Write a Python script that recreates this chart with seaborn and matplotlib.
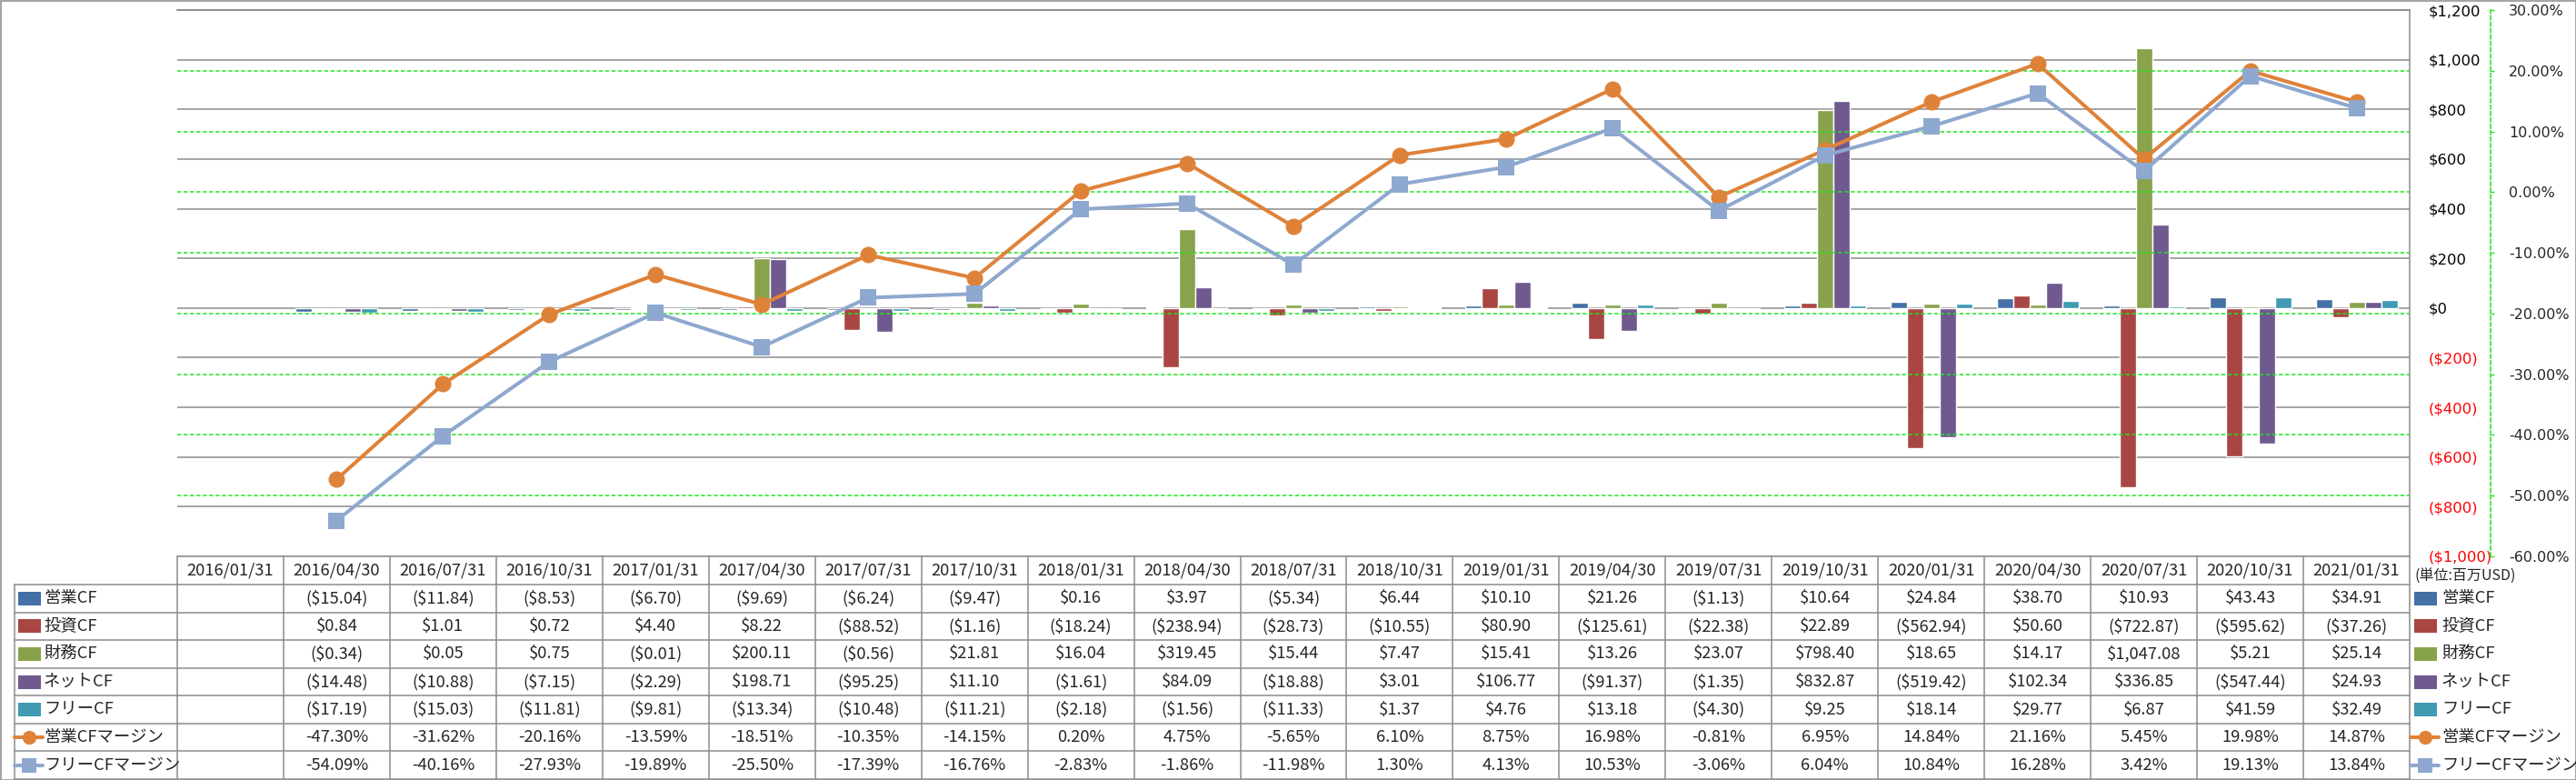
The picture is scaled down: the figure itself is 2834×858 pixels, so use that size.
import numpy as np
import pandas as pd
import matplotlib
matplotlib.use('Agg')
import matplotlib.pyplot as plt
import seaborn as sns
from matplotlib.patches import Rectangle
from matplotlib.lines import Line2D

# ---------------- data ----------------
dates = ['2016/01/31', '2016/04/30', '2016/07/31', '2016/10/31', '2017/01/31', '2017/04/30',
         '2017/07/31', '2017/10/31', '2018/01/31', '2018/04/30', '2018/07/31', '2018/10/31',
         '2019/01/31', '2019/04/30', '2019/07/31', '2019/10/31', '2020/01/31', '2020/04/30',
         '2020/07/31', '2020/10/31', '2021/01/31']
op_cf = [np.nan, -15.04, -11.84, -8.53, -6.70, -9.69, -6.24, -9.47, 0.16, 3.97, -5.34, 6.44,
         10.10, 21.26, -1.13, 10.64, 24.84, 38.70, 10.93, 43.43, 34.91]
inv_cf = [np.nan, 0.84, 1.01, 0.72, 4.40, 8.22, -88.52, -1.16, -18.24, -238.94, -28.73, -10.55,
          80.90, -125.61, -22.38, 22.89, -562.94, 50.60, -722.87, -595.62, -37.26]
fin_cf = [np.nan, -0.34, 0.05, 0.75, -0.01, 200.11, -0.56, 21.81, 16.04, 319.45, 15.44, 7.47,
          15.41, 13.26, 23.07, 798.40, 18.65, 14.17, 1047.08, 5.21, 25.14]
net_cf = [np.nan, -14.48, -10.88, -7.15, -2.29, 198.71, -95.25, 11.10, -1.61, 84.09, -18.88, 3.01,
          106.77, -91.37, -1.35, 832.87, -519.42, 102.34, 336.85, -547.44, 24.93]
free_cf = [np.nan, -17.19, -15.03, -11.81, -9.81, -13.34, -10.48, -11.21, -2.18, -1.56, -11.33, 1.37,
           4.76, 13.18, -4.30, 9.25, 18.14, 29.77, 6.87, 41.59, 32.49]
op_margin = [np.nan, -47.30, -31.62, -20.16, -13.59, -18.51, -10.35, -14.15, 0.20, 4.75, -5.65, 6.10,
             8.75, 16.98, -0.81, 6.95, 14.84, 21.16, 5.45, 19.98, 14.87]
free_margin = [np.nan, -54.09, -40.16, -27.93, -19.89, -25.50, -17.39, -16.76, -2.83, -1.86, -11.98, 1.30,
               4.13, 10.53, -3.06, 6.04, 10.84, 16.28, 3.42, 19.13, 13.84]
bar_names = ['営業CF', '投資CF', '財務CF', 'ネットCF', 'フリーCF']
line_names = ['営業CFマージン', 'フリーCFマージン']
usd_ticks = [-1000, -800, -600, -400, -200, 0, 200, 400, 600, 800, 1000, 1200]
pct_ticks = [-60, -50, -40, -30, -20, -10, 0, 10, 20, 30]
unit_label = '(単位:百万USD)'

# ---------------- style ----------------
bar_colors = ['#4470A6', '#A94643', '#88A34B', '#70598F', '#3F9AB2']
line_colors = ['#DF8239', '#8EA8CF']
line_markers = ['o', 's']
grid_gray = '#8C8C8C'
green = '#1EE61E'
red = '#FF0000'
dash = (0, (2.8, 1.8))

sns.set_style('white')
plt.rcParams['font.family'] = ['DejaVu Sans', 'Noto Sans CJK JP']
TF = ['Noto Sans CJK JP', 'DejaVu Sans']

W, H = 2834, 858
fig = plt.figure(figsize=(W / 100, H / 100), dpi=100)
L, R, T, B = 195, 2651, 11, 612
ax = fig.add_axes([L / W, 1 - B / H, (R - L) / W, (B - T) / H])

bar_series = [op_cf, inv_cf, fin_cf, net_cf, free_cf]
rows = []
for name, vals in zip(bar_names, bar_series):
    for d, v in zip(dates, vals):
        rows.append({'date': d, 'series': name, 'value': v})
df = pd.DataFrame(rows).dropna()

sns.barplot(data=df, x='date', y='value', hue='series', order=dates, hue_order=bar_names,
            palette=bar_colors, width=90 / 117, gap=0, saturation=1, errorbar=None,
            legend=False, ax=ax)

ax2 = ax.twinx()
# green dashed gridlines of the secondary axis (inner ticks only)
for v in pct_ticks[1:-1]:
    ax2.axhline(v, color=green, lw=1.1, ls=dash, zorder=0.5)
xpos = np.arange(len(dates))
for name, vals, c, m in zip(line_names, [op_margin, free_margin], line_colors, line_markers):
    sns.lineplot(x=xpos, y=vals, ax=ax2, color=c, marker=m, markersize=13, linewidth=2.9,
                 markeredgewidth=0, sort=False)
# gray top border of the plot area, drawn over everything of the twin axis
ax2.axhline(pct_ticks[-1], color=grid_gray, lw=1.1, zorder=5, clip_on=False)

ax.set_xlim(-0.5, len(dates) - 0.5)
ax.set_ylim(usd_ticks[0], usd_ticks[-1])
ax2.set_ylim(pct_ticks[0], pct_ticks[-1])
ax.set_xticks([])
ax.set_xlabel('')
ax.set_ylabel('')
ax2.set_xlabel('')
ax2.set_ylabel('')

# primary axis (right side, labels left-aligned)
ax.yaxis.tick_right()
ax.set_yticks(usd_ticks)
ax.set_yticklabels([f'${v:,}' if v >= 0 else f'(${-v:,})' for v in usd_ticks])
ax.tick_params(axis='y', length=0, pad=15, labelsize=11.8)
for lab, v in zip(ax.get_yticklabels(), usd_ticks):
    lab.set_color(red if v < 0 else 'black')
    lab.set_fontsize(11.8)
ax.grid(axis='y', color=grid_gray, lw=1.1)
ax.grid(axis='x', visible=False)
ax.set_axisbelow(True)
for s in ['left', 'bottom']:
    ax.spines[s].set_visible(False)
for s in ['top', 'right']:
    ax.spines[s].set_visible(True)
    ax.spines[s].set_color(grid_gray)
    ax.spines[s].set_linewidth(1.1)

# secondary axis
ax2.set_yticks(pct_ticks)
ax2.set_yticklabels([f'{v:.2f}%' for v in pct_ticks])
ax2.tick_params(axis='y', direction='out', length=3, width=1, color=green, pad=11.5, labelsize=11.5)
for lab, v in zip(ax2.get_yticklabels(), pct_ticks):
    lab.set_color(red if v < 0 else 'black')
ax2.grid(False)
for s in ['left', 'top', 'bottom']:
    ax2.spines[s].set_visible(False)
ax2.spines['right'].set_position(('axes', (2740 - L) / (R - L)))
ax2.spines['right'].set_color(green)
ax2.spines['right'].set_linestyle(dash)
ax2.spines['right'].set_linewidth(1.1)

# ---------------- data table ----------------
cv = fig.add_axes([0, 0, 1, 1])
cv.set_xlim(0, W)
cv.set_ylim(H, 0)
cv.axis('off')

n = len(dates)
cw = (R - L) / n
hdr_top, hdr_bot, tbl_bot = 612, 643, 857
nrows = len(bar_names) + len(line_names)
rh = (tbl_bot - hdr_bot) / nrows
lab_left = 16

cv.plot([L, R], [hdr_top, hdr_top], color=grid_gray, lw=1.1)
for k in range(nrows + 1):
    y = hdr_bot + k * rh
    cv.plot([lab_left, R], [y, y], color=grid_gray, lw=1.1)
for i in range(n + 1):
    x = L + i * cw
    cv.plot([x, x], [hdr_top, tbl_bot], color=grid_gray, lw=1.1)
cv.plot([lab_left, lab_left], [hdr_bot, tbl_bot], color=grid_gray, lw=1.1)

fs = 13.2
for i, d in enumerate(dates):
    cv.text(L + (i + 0.5) * cw, (hdr_top + hdr_bot) / 2, d, ha='center', va='center',
            fontsize=fs, family=TF)


def usd(v):
    return f'${v:,.2f}' if v >= 0 else f'(${-v:,.2f})'


all_rows = bar_series + [op_margin, free_margin]
all_names = bar_names + line_names
for r, (name, vals) in enumerate(zip(all_names, all_rows)):
    yc = hdr_bot + (r + 0.5) * rh
    for i, v in enumerate(vals):
        if np.isnan(v):
            continue
        txt = usd(v) if r < len(bar_names) else f'{v:.2f}%'
        cv.text(L + (i + 0.5) * cw, yc, txt, ha='center', va='center', fontsize=fs, family=TF)
    # left key + right legend
    for x0, tx in [(20, 48), (2656, 2686)]:
        if r < len(bar_names):
            cv.add_patch(Rectangle((x0, yc - 7.5), 25, 15, color=bar_colors[r], lw=0))
        else:
            k = r - len(bar_names)
            cv.add_line(Line2D([x0 - 4, x0 + 11.5, x0 + 27], [yc, yc, yc], color=line_colors[k],
                               lw=2.9, marker=line_markers[k], markersize=11, markevery=[1],
                               markeredgewidth=0))
        cv.text(tx, yc, name, ha='left', va='center', fontsize=fs, family=TF)

cv.text(2656, 634, unit_label, ha='left', va='center', fontsize=11.5, family=TF)

cv.add_patch(Rectangle((0.5, 0.5), W - 1, H - 1, fill=False, ec=grid_gray, lw=1.1))

fig.savefig('out.png', dpi=100)
